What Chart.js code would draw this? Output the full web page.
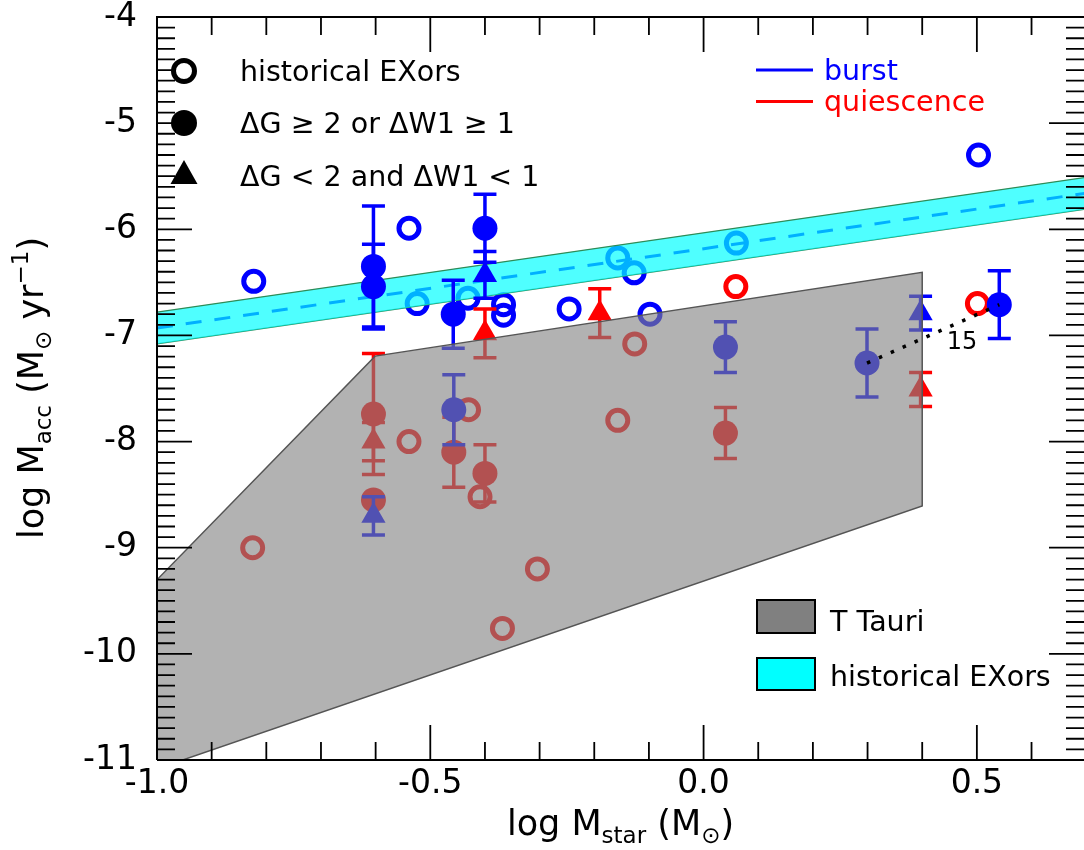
<!DOCTYPE html>
<html>
<head>
<meta charset="utf-8">
<style>
  html, body { margin: 0; padding: 0; background: #ffffff; overflow: hidden; }
  canvas { display: block; }
</style>
<script src="https://cdn.jsdelivr.net/npm/chart.js@4.4.1/dist/chart.umd.min.js"></script>
</head>
<body>
<canvas id="chart" width="1084" height="850"></canvas>
<script>
// ---- axis ticks ----
const xTickValues = [-1.0, -0.5, 0.0, 0.5];
const yTickValues = [-4, -5, -6, -7, -8, -9, -10, -11];

// ---- historical EXors (open circles): burst and quiescence ----
const burstHistX = [-0.823, -0.539, -0.524, -0.431, -0.366, -0.366, -0.246, -0.157, -0.127, -0.098, 0.060, 0.503];
const burstHistY = [-6.49, -5.99, -6.70, -6.65, -6.71, -6.81, -6.75, -6.27, -6.41, -6.80, -6.13, -5.30];
const quiesHistX = [-0.825, -0.539, -0.430, -0.409, -0.368, -0.304, -0.157, -0.126, 0.059, 0.501];
const quiesHistY = [-9.00, -8.00, -7.70, -8.52, -9.76, -9.20, -7.80, -7.08, -6.54, -6.70];

// ---- dG >= 2 or dW1 >= 1 (filled circles) ----
const burstBigX   = [-0.604, -0.604, -0.458, -0.457, -0.400, 0.040, 0.299, 0.541];
const burstBigY   = [-6.35, -6.54, -6.80, -7.70, -5.99, -7.11, -7.26, -6.71];
const burstBigErr = [0.57, 0.40, 0.32, 0.33, 0.32, 0.24, 0.32, 0.32];
const quiesBigX   = [-0.604, -0.604, -0.457, -0.400, 0.040];
const quiesBigY   = [-7.74, -8.55, -8.10, -8.30, -7.92];
const quiesBigErr = [0.57, null, 0.33, 0.27, 0.24];

// ---- dG < 2 and dW1 < 1 (triangles) ----
const burstSmallX   = [-0.604, -0.400, 0.397];
const burstSmallY   = [-8.70, -6.43, -6.79];
const burstSmallErr = [0.18, 0.22, 0.16];
const quiesSmallX   = [-0.604, -0.400, -0.190, 0.397];
const quiesSmallY   = [-8.00, -6.98, -6.79, -7.51];
const quiesSmallErr = [0.18, 0.23, 0.23, 0.16];

// ---- source 15: two epochs joined by a dotted line ----
const trackX = [0.299, 0.541];
const trackY = [-7.26, -6.71];
const trackLabel = '15';
const trackLabelX = 0.473;
const trackLabelY = -7.07;

// ---- historical EXors relation (band) ----
const bandX      = [-1.0, 0.7];
const bandCenter = [-6.93, -5.66];
const bandUpper  = [-6.78, -5.51];
const bandLower  = [-7.08, -5.81];

// ---- T Tauri locus (polygon) ----
const ttauriX = [-1.1, -0.601, 0.4, 0.4, -1.1, -1.1];
const ttauriY = [-9.83, -7.195, -6.405, -8.606, -11.26, -9.83];

const BLUE = '#0000ff';
const RED = '#ff0000';
const FONT = 'DejaVu Sans';

const pts = (xs, ys) => xs.map((x, i) => ({ x: x, y: ys[i] }));

function openCircles(label, xs, ys, color, order) {
  return { label, data: pts(xs, ys), order, pointStyle: 'circle', pointRadius: 10,
    pointBorderWidth: 5, pointBorderColor: color, pointBackgroundColor: 'rgba(0,0,0,0)',
    borderColor: color, showLine: false };
}
function filledMarks(label, xs, ys, errs, color, style, r, order) {
  return { label, data: pts(xs, ys), errors: errs, order, pointStyle: style, pointRadius: r,
    pointBorderWidth: 0, pointBorderColor: color, pointBackgroundColor: color,
    borderColor: color, showLine: false };
}

// vertical error bars drawn right after each dataset, so later layers cover them too
const errorBars = {
  id: 'errorBars',
  afterDatasetDraw(chart, args) {
    const ds = chart.data.datasets[args.index];
    if (!ds.errors) return;
    const { ctx, chartArea: a, scales: { x, y } } = chart;
    ctx.save();
    ctx.beginPath();
    ctx.rect(a.left, a.top, a.right - a.left, a.bottom - a.top);
    ctx.clip();
    ctx.strokeStyle = ds.borderColor;
    ctx.lineWidth = 3.5;
    ds.data.forEach((p, i) => {
      const e = ds.errors[i];
      if (e == null) return;
      const px = x.getPixelForValue(p.x);
      const top = y.getPixelForValue(p.y + e);
      const bot = y.getPixelForValue(p.y - e);
      const hw = 11.5;
      ctx.beginPath();
      ctx.moveTo(px, top); ctx.lineTo(px, bot);
      ctx.moveTo(px - hw, top); ctx.lineTo(px + hw, top);
      ctx.moveTo(px - hw, bot); ctx.lineTo(px + hw, bot);
      ctx.stroke();
    });
    ctx.restore();
  }
};

// frame with inward major/minor ticks on all sides
const frame = {
  id: 'frame',
  afterDatasetsDraw(chart) {
    const { ctx, chartArea: a, scales: { x, y } } = chart;
    ctx.save();
    ctx.strokeStyle = '#000';
    ctx.lineWidth = 2;
    ctx.beginPath();
    ctx.moveTo(a.left, a.bottom); ctx.lineTo(a.left, a.top); ctx.lineTo(a.right + 2, a.top);
    ctx.moveTo(a.left, a.bottom); ctx.lineTo(a.right + 2, a.bottom);
    ctx.stroke();
    ctx.lineWidth = 1.8;
    ctx.beginPath();
    for (let k = -10; k <= 7; k++) {
      const px = x.getPixelForValue(k / 10);
      if (px <= a.left + 1 || px >= a.right) continue;
      const len = (k % 5 === 0) ? 35 : 18;
      ctx.moveTo(px, a.bottom); ctx.lineTo(px, a.bottom - len);
      ctx.moveTo(px, a.top); ctx.lineTo(px, a.top + len);
    }
    for (let k = -110; k <= -40; k++) {
      const py = y.getPixelForValue(k / 10);
      if (py <= a.top + 1 || py >= a.bottom - 1) continue;
      const len = (k % 10 === 0) ? 35 : 18;
      ctx.moveTo(a.left, py); ctx.lineTo(a.left + len, py);
      ctx.moveTo(a.right, py); ctx.lineTo(a.right - len, py);
    }
    ctx.stroke();
    ctx.restore();
  }
};

// text runs with sub/superscripts
function richText(ctx, parts, cx, baseY) {
  let total = 0;
  parts.forEach(p => { ctx.font = p.size + 'px "' + FONT + '"'; p.w = ctx.measureText(p.t).width; total += p.w; });
  let xpos = cx - total / 2;
  parts.forEach(p => {
    ctx.font = p.size + 'px "' + FONT + '"';
    ctx.fillText(p.t, xpos, baseY + (p.dy || 0));
    xpos += p.w;
  });
}

const annotations = {
  id: 'annotations',
  afterDraw(chart) {
    const { ctx, chartArea: a, scales: { x, y } } = chart;
    ctx.save();
    ctx.fillStyle = '#000';

    // label of the dotted track
    ctx.font = '24px "' + FONT + '"';
    ctx.textAlign = 'center';
    ctx.textBaseline = 'middle';
    ctx.fillText(trackLabel, x.getPixelForValue(trackLabelX), y.getPixelForValue(trackLabelY));
    ctx.textAlign = 'left';
    ctx.textBaseline = 'alphabetic';

    // symbol key
    const mx = 184, tx = 240;
    ctx.strokeStyle = '#000';
    ctx.lineWidth = 5;
    ctx.beginPath(); ctx.arc(mx, 71, 10.5, 0, Math.PI * 2); ctx.stroke();
    ctx.beginPath(); ctx.arc(mx, 123, 13, 0, Math.PI * 2); ctx.fill();
    ctx.beginPath();
    ctx.moveTo(mx, 160); ctx.lineTo(mx + 13.5, 184); ctx.lineTo(mx - 13.5, 184); ctx.closePath(); ctx.fill();
    ctx.font = '28.5px "' + FONT + '"';
    ctx.fillText('historical EXors', tx, 81);
    ctx.fillText('\u0394G \u2265 2 or \u0394W1 \u2265 1', tx, 133);
    ctx.fillText('\u0394G < 2 and \u0394W1 < 1', tx, 185.5);

    // phase key
    ctx.lineWidth = 3;
    ctx.strokeStyle = BLUE;
    ctx.beginPath(); ctx.moveTo(756, 70); ctx.lineTo(813, 70); ctx.stroke();
    ctx.strokeStyle = RED;
    ctx.beginPath(); ctx.moveTo(756, 101.5); ctx.lineTo(813, 101.5); ctx.stroke();
    ctx.fillStyle = BLUE;
    ctx.fillText('burst', 824, 80);
    ctx.fillStyle = RED;
    ctx.fillText('quiescence', 824, 111);

    // region key
    ctx.lineWidth = 2;
    ctx.strokeStyle = '#000';
    ctx.fillStyle = '#808080';
    ctx.fillRect(757, 600, 58, 33); ctx.strokeRect(757, 600, 58, 33);
    ctx.fillStyle = '#00ffff';
    ctx.fillRect(757, 658, 58, 32); ctx.strokeRect(757, 658, 58, 32);
    ctx.fillStyle = '#000';
    ctx.fillText('T Tauri', 830, 631);
    ctx.fillText('historical EXors', 830, 686);

    // axis titles
    ctx.fillStyle = '#000';
    richText(ctx, [
      { t: 'log M', size: 35 }, { t: 'star', size: 23, dy: 8 },
      { t: ' (M', size: 35 }, { t: '\u2299', size: 23, dy: 8 }, { t: ')', size: 35 }
    ], (a.left + a.right) / 2, 835);

    ctx.save();
    ctx.translate(43, 388);
    ctx.rotate(-Math.PI / 2);
    richText(ctx, [
      { t: 'log M', size: 35 }, { t: 'acc', size: 23, dy: 8 },
      { t: ' (M', size: 35 }, { t: '\u2299', size: 23, dy: 8 },
      { t: ' yr', size: 35 }, { t: '\u22121', size: 23, dy: -15 }, { t: ')', size: 35 }
    ], 0, 0);
    ctx.restore();

    ctx.restore();
  }
};

Chart.defaults.font.family = FONT;
Chart.defaults.color = '#000';

new Chart(document.getElementById('chart'), {
  type: 'scatter',
  data: {
    datasets: [
      // topmost: dotted track of source 15
      { label: 'track', data: pts(trackX, trackY), order: 0, showLine: true,
        borderColor: '#000', borderWidth: 3.5, borderDash: [3.5, 9.5], pointRadius: 0, fill: false },
      // T Tauri locus, translucent grey over the points
      { label: 'T Tauri', data: pts(ttauriX, ttauriY), order: 1, showLine: true, clip: 0,
        borderColor: '#555555', borderWidth: 1.5, pointRadius: 0, tension: 0,
        backgroundColor: 'rgba(130,130,130,0.62)', fill: 'shape' },
      // burst phase, new events
      filledMarks('burst big', burstBigX, burstBigY, burstBigErr, BLUE, 'circle', 12.5, 2),
      filledMarks('burst small', burstSmallX, burstSmallY, burstSmallErr, BLUE, 'triangle', 14, 2),
      // quiescent phase, new events
      filledMarks('quiescence big', quiesBigX, quiesBigY, quiesBigErr, RED, 'circle', 12.5, 3),
      filledMarks('quiescence small', quiesSmallX, quiesSmallY, quiesSmallErr, RED, 'triangle', 14, 3),
      // historical EXors band, translucent cyan
      { label: 'band upper', data: pts(bandX, bandUpper), order: 4, showLine: true, clip: 0,
        borderColor: '#2e8b57', borderWidth: 1.3, pointRadius: 0,
        backgroundColor: 'rgba(0,255,255,0.69)', fill: '+1' },
      { label: 'band lower', data: pts(bandX, bandLower), order: 4, showLine: true, clip: 0,
        borderColor: '#2e8b57', borderWidth: 1.3, pointRadius: 0, fill: false },
      { label: 'band center', data: pts(bandX, bandCenter), order: 5, showLine: true, clip: 0,
        borderColor: BLUE, borderWidth: 3, borderDash: [16, 13], pointRadius: 0, fill: false },
      // historical EXors
      openCircles('burst historical', burstHistX, burstHistY, BLUE, 6),
      openCircles('quiescence historical', quiesHistX, quiesHistY, RED, 7)
    ]
  },
  options: {
    responsive: false,
    animation: false,
    devicePixelRatio: 1,
    events: [],
    layout: { autoPadding: false, padding: { top: 17, right: 0, bottom: 0, left: 0 } },
    plugins: {
      legend: { display: false },
      tooltip: { enabled: false },
      filler: { drawTime: 'beforeDatasetDraw' }
    },
    scales: {
      x: {
        type: 'linear', min: -1.0, max: 0.696,
        afterBuildTicks: s => { s.ticks = xTickValues.map(v => ({ value: v })); },
        afterFit: s => { s.height = 90; s.paddingLeft = 0; s.paddingRight = 0; },
        ticks: { callback: v => Number(v).toFixed(1), font: { size: 33 }, color: '#000',
          padding: 5, maxRotation: 0, autoSkip: false },
        grid: { display: false, drawTicks: false }, border: { display: false }
      },
      y: {
        type: 'linear', min: -11, max: -4,
        afterBuildTicks: s => { s.ticks = yTickValues.map(v => ({ value: v })); },
        afterFit: s => { s.width = 157; s.paddingTop = 0; s.paddingBottom = 0; },
        ticks: { callback: v => String(v), font: { size: 33 }, color: '#000', padding: 20, autoSkip: false },
        grid: { display: false, drawTicks: false }, border: { display: false }
      }
    }
  },
  plugins: [errorBars, frame, annotations]
});
</script>
</body>
</html>
